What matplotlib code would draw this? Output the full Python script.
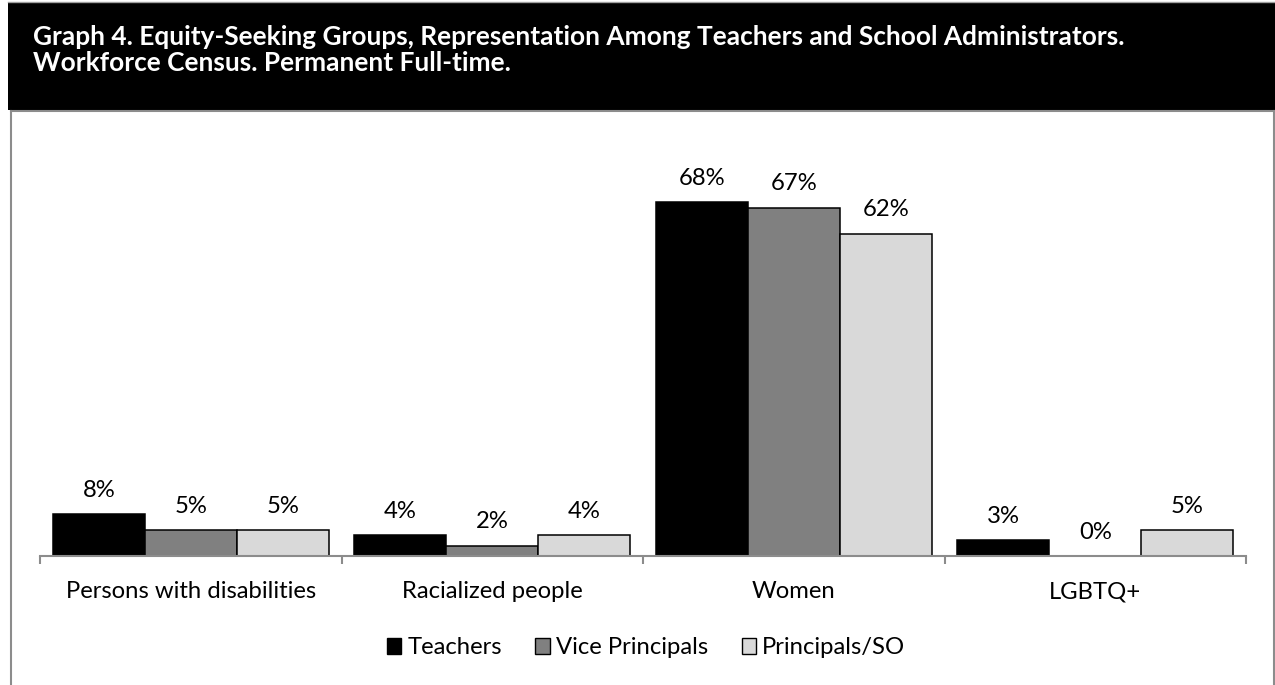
import matplotlib
matplotlib.use("Agg")
import matplotlib.pyplot as plt
from matplotlib.patches import Rectangle, Patch
from matplotlib.lines import Line2D
import matplotlib.transforms as mtrans
import numpy as np

# ---- data ----
categories = ["Persons with disabilities", "Racialized people", "Women", "LGBTQ+"]
series_names = ["Teachers", "Vice Principals", "Principals/SO"]
teachers = [8, 4, 68, 3]
vice_principals = [5, 2, 67, 0]
principals_so = [5, 4, 62, 5]
title_lines = ["Graph 4. Equity-Seeking Groups, Representation Among Teachers and School Administrators.",
               "Workforce Census. Permanent Full-time."]

colors = ["#000000", "#808080", "#d9d9d9"]
FONT = ["Lato", "DejaVu Sans"]
plt.rcParams['font.family'] = FONT
FS = 17.2

W, H = 1275, 685
fig = plt.figure(figsize=(W / 100, H / 100), dpi=100)

def fx(px):
    return px / W

def fy(py):
    return 1 - py / H

# frame: black header
fig.add_artist(Rectangle((fx(8), fy(110)), fx(1275) - fx(8), fy(3) - fy(110),
                         transform=fig.transFigure, facecolor="black", edgecolor="none"))
fig.add_artist(Line2D([fx(8), fx(1275)], [fy(2), fy(2)], transform=fig.transFigure,
                      color="#a0a0a0", lw=1))
fig.add_artist(Line2D([fx(11), fx(1274)], [fy(111), fy(111)], transform=fig.transFigure,
                      color="#8c8c8c", lw=1.5))
fig.add_artist(Line2D([fx(11), fx(11)], [fy(111), fy(685)], transform=fig.transFigure,
                      color="#8c8c8c", lw=1.5))
fig.add_artist(Line2D([fx(1274), fx(1274)], [fy(111), fy(685)], transform=fig.transFigure,
                      color="#8c8c8c", lw=1.5))

fig.text(fx(33), fy(37), title_lines[0], color="white", fontsize=18.9, fontweight="bold",
         va="center", ha="left")
fig.text(fx(33), fy(63), title_lines[1], color="white", fontsize=18.9, fontweight="bold",
         va="center", ha="left")

# axes: y=0 at px 556, 5.2 px per %
base = 556
top_val = 80
top_px = base - 5.2 * top_val
ax = fig.add_axes([fx(40), fy(base), fx(1246) - fx(40), fy(top_px) - fy(base)])
ax.set_xlim(-0.5, len(categories) - 0.5)
ax.set_ylim(0, top_val)
ax.patch.set_alpha(0)

x = np.arange(len(categories))
bw = 0.305
all_series = [teachers, vice_principals, principals_so]
for i, (vals, c, name) in enumerate(zip(all_series, colors, series_names)):
    pos = x + (i - 1) * bw
    ax.bar(pos, vals, width=bw, color=c, edgecolor="black", linewidth=1.1, label=name)
    for xp, v in zip(pos, vals):
        ax.annotate(f"{v}%", (xp, v), xytext=(0, 12.5), textcoords="offset points",
                    ha="center", va="baseline", fontsize=FS, color="black")

for s in ["top", "right", "left"]:
    ax.spines[s].set_visible(False)
ax.spines["bottom"].set_color("#8c8c8c")
ax.spines["bottom"].set_linewidth(1.5)
ax.set_yticks([])
ax.set_xticks(np.arange(-0.5, len(categories)))
ax.set_xticklabels([])
ax.tick_params(axis="x", direction="out", length=6, width=1.5, color="#8c8c8c")
lab_tr = ax.get_xaxis_transform() + mtrans.ScaledTranslation(0, -36 / 100, fig.dpi_scale_trans)
for xi, cat in zip(x, categories):
    ax.text(xi, 0, cat, transform=lab_tr, ha="center", va="center", fontsize=FS)

handles = [Patch(facecolor=c, edgecolor="black", linewidth=1.0) for c in colors]
fig.legend(handles, series_names, loc="center", bbox_to_anchor=(fx(646), fy(648)), ncol=3,
           frameon=False, fontsize=FS, handlelength=0.62, handleheight=0.62,
           handletextpad=0.25, columnspacing=1.4)

fig.savefig("out.png", dpi=100)
